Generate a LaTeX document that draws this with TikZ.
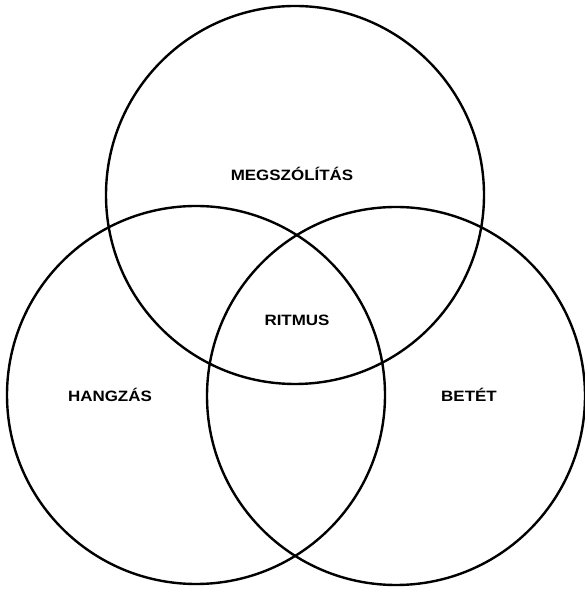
\documentclass[tikz,border=0pt]{standalone}
\usepackage{fontspec}
\setmainfont{Liberation Sans}
\begin{document}
\begin{tikzpicture}[x=1pt,y=1pt,
  ring/.style={draw=black,line width=2.4pt},
  lbl/.style={font=\bfseries\fontsize{15}{15}\selectfont,xscale=1.13,transform shape,inner sep=0pt}]
\useasboundingbox (0,0) rectangle (585,589);
\draw[ring] (295,394) circle (189);
\draw[ring] (196,194) circle (189);
\draw[ring] (396,193) circle (189);
\node[lbl] (meg) at (292,415) {MEGSZÓLÍTÁS};
\node[lbl] (rit) at (297,269) {RITMUS};
\node[lbl] (han) at (110,194) {HANGZÁS};
\node[lbl] (bet) at (469,194) {BETÉT};
\end{tikzpicture}
\end{document}
